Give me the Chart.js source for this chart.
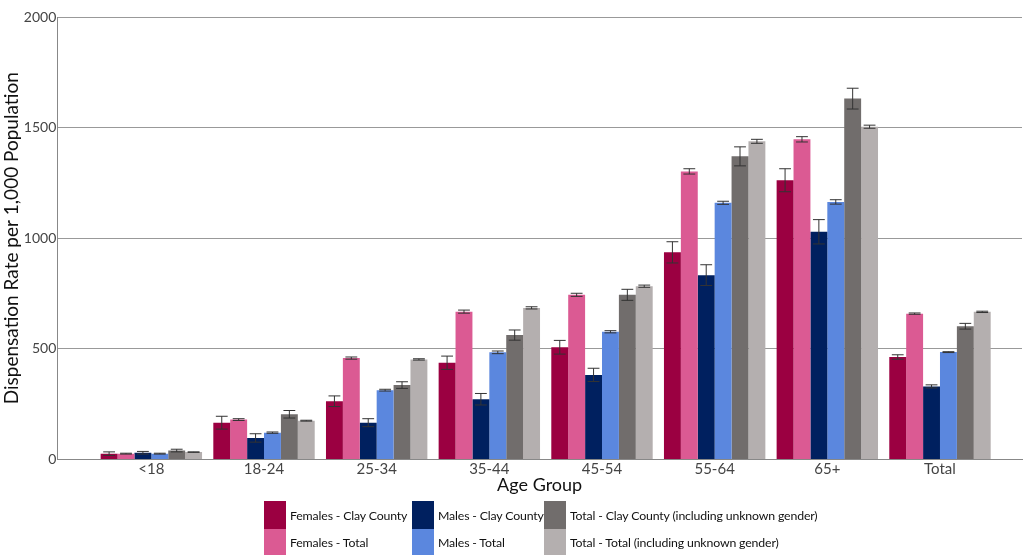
<!DOCTYPE html>
<html>
<head>
<meta charset="utf-8">
<script src="https://cdn.jsdelivr.net/npm/chart.js@4.4.0/dist/chart.umd.min.js"></script>
<style>
  html, body { margin: 0; padding: 0; background: #fff; }
  #wrap { position: relative; width: 1024px; height: 555px; }
  #legend {
    position: absolute; left: 264px; top: 501px;
    display: grid; grid-template-rows: 28px 26px; grid-auto-flow: column;
    grid-template-columns: 148px 132px auto;
    font-family: Lato, sans-serif; font-size: 12.3px; letter-spacing: -0.15px; color: #111;
  }
  .item { display: flex; align-items: center; white-space: nowrap; }
  .box { width: 22px; height: 100%; margin-right: 4px; flex: none; }
</style>
</head>
<body>
<div id="wrap">
  <canvas id="chart" width="1024" height="555"></canvas>
  <div id="legend"></div>
</div>
<script>
const groups = ["<18", "18-24", "25-34", "35-44", "45-54", "55-64", "65+", "Total"];

const femalesClay = [26, 166, 263, 437, 507, 936, 1262, 463];
const femalesTotal = [26, 180, 458, 668, 744, 1302, 1447, 659];
const malesClay = [30, 97, 166, 272, 382, 833, 1029, 330];
const malesTotal = [26, 121, 313, 484, 577, 1160, 1164, 485];
const totalClay = [40, 204, 336, 562, 744, 1370, 1631, 602];
const totalTotal = [33, 175, 452, 685, 783, 1438, 1504, 667];

const femalesClayErr = [8, 29, 24, 30, 31, 48, 52, 10];
const femalesTotalErr = [2, 4, 5, 7, 7, 12, 12, 3];
const malesClayErr = [6, 19, 18, 26, 30, 47, 55, 7];
const malesTotalErr = [2, 3, 4, 6, 5, 7, 10, 2];
const totalClayErr = [6, 17, 15, 23, 25, 43, 47, 13];
const totalTotalErr = [1, 2, 3, 5, 5, 9, 7, 3];

const yTicks = [0, 500, 1000, 1500, 2000];

const series = [
  { label: "Females - Clay County", data: femalesClay, err: femalesClayErr, color: "#9b0041" },
  { label: "Females - Total", data: femalesTotal, err: femalesTotalErr, color: "#db5a93" },
  { label: "Males - Clay County", data: malesClay, err: malesClayErr, color: "#00205f" },
  { label: "Males - Total", data: malesTotal, err: malesTotalErr, color: "#5b87de" },
  { label: "Total - Clay County (including unknown gender)", data: totalClay, err: totalClayErr, color: "#716d6c" },
  { label: "Total - Total (including unknown gender)", data: totalTotal, err: totalTotalErr, color: "#b4afaf" }
];

// draws the error bars on top of each bar
const errorBars = {
  id: "errorBars",
  afterDatasetsDraw(chart) {
    const ctx = chart.ctx;
    const y = chart.scales.y;
    ctx.save();
    ctx.strokeStyle = "#333";
    ctx.lineWidth = 1;
    chart.data.datasets.forEach((ds, i) => {
      const meta = chart.getDatasetMeta(i);
      meta.data.forEach((bar, j) => {
        const v = ds.data[j].y;
        const e = ds.err[j];
        const top = y.getPixelForValue(v + e);
        const bottom = y.getPixelForValue(v - e);
        const half = bar.width * 0.35;
        ctx.beginPath();
        ctx.moveTo(bar.x, top);
        ctx.lineTo(bar.x, bottom);
        ctx.moveTo(bar.x - half, top);
        ctx.lineTo(bar.x + half, top);
        ctx.moveTo(bar.x - half, bottom);
        ctx.lineTo(bar.x + half, bottom);
        ctx.stroke();
      });
    });
    ctx.restore();
  }
};

const chart = new Chart(document.getElementById("chart"), {
  type: "bar",
  data: {
    datasets: series.map(s => ({
      label: s.label,
      data: s.data.map((v, i) => ({ x: i, y: v })),
      err: s.err,
      backgroundColor: s.color,
      borderWidth: 0
    }))
  },
  options: {
    responsive: false,
    animation: false,
    layout: { padding: { top: 17, right: 2, bottom: 59, left: 0 } },
    datasets: { bar: { categoryPercentage: 0.9, barPercentage: 1 } },
    plugins: { legend: { display: false }, tooltip: { enabled: false } },
    scales: {
      x: {
        type: "linear",
        offset: false,
        min: -0.835,
        max: 7.728,
        afterBuildTicks: axis => { axis.ticks = groups.map((g, i) => ({ value: i })); },
        ticks: {
          callback: v => groups[v],
          color: "#444",
          font: { family: "Lato", size: 15 },
          padding: 1
        },
        grid: { display: false, drawTicks: false },
        border: { color: "#888" },
        title: {
          display: true, text: "Age Group", color: "#111",
          font: { family: "Lato", size: 18 }, padding: { top: -5, bottom: 0 }
        }
      },
      y: {
        min: 0,
        max: 2000,
        afterBuildTicks: axis => { axis.ticks = yTicks.map(v => ({ value: v })); },
        ticks: {
          callback: v => String(v),
          color: "#444", font: { family: "Lato", size: 14 }, padding: 1
        },
        grid: { color: "#999", drawTicks: false },
        border: { color: "#888" },
        title: {
          display: true, text: "Dispensation Rate per 1,000 Population", color: "#111",
          font: { family: "Lato", size: 19 }, padding: 0
        }
      }
    }
  },
  plugins: [errorBars]
});

// legend: two rows, three columns
const legendEl = document.getElementById("legend");
series.forEach(s => {
  const item = document.createElement("div");
  item.className = "item";
  item.innerHTML = `<span class="box" style="background:${s.color}"></span><span>${s.label}</span>`;
  legendEl.appendChild(item);
});
</script>
</body>
</html>
